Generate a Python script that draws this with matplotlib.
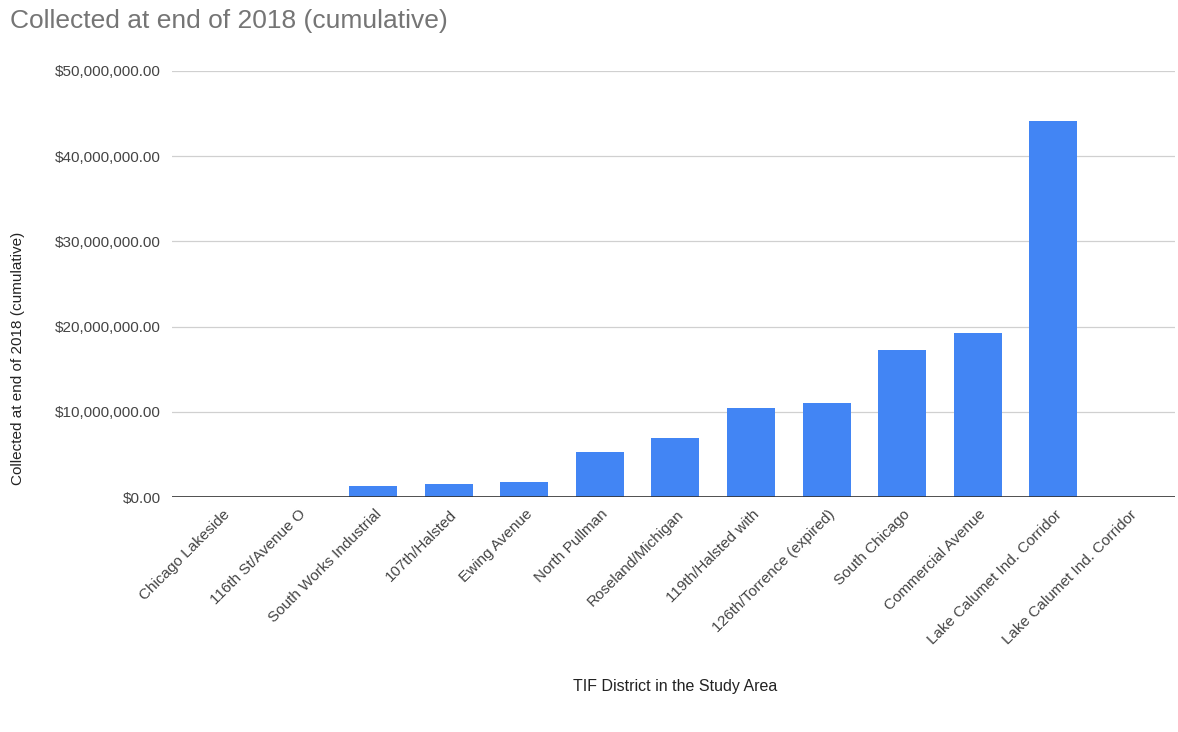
import matplotlib
matplotlib.use("Agg")
import matplotlib.pyplot as plt
from matplotlib.ticker import FuncFormatter
from matplotlib.transforms import ScaledTranslation

plt.rcParams["font.family"] = ["Liberation Sans", "DejaVu Sans"]

districts = [
    "Chicago Lakeside",
    "116th St/Avenue O",
    "South Works Industrial",
    "107th/Halsted",
    "Ewing Avenue",
    "North Pullman",
    "Roseland/Michigan",
    "119th/Halsted with",
    "126th/Torrence (expired)",
    "South Chicago",
    "Commercial Avenue",
    "Lake Calumet Ind. Corridor",
    "Lake Calumet Ind. Corridor",
]
collected = [
    0,
    0,
    1_260_000,
    1_500_000,
    1_730_000,
    5_300_000,
    6_960_000,
    10_500_000,
    11_070_000,
    17_200_000,
    19_300_000,
    44_100_000,
    0,
]
y_ticks = [0, 10_000_000, 20_000_000, 30_000_000, 40_000_000, 50_000_000]

BAR_COLOR = "#4285F4"
TEXT_COLOR = "#444444"

fig = plt.figure(figsize=(11.78, 7.32), dpi=100)
ax = fig.add_axes([172 / 1178, 1 - 497 / 732, 1003 / 1178, 426 / 732])

x = list(range(len(districts)))
ax.bar(x, collected, width=0.635, color=BAR_COLOR, zorder=3)

ax.set_ylim(0, 50_000_000)
ax.set_xlim(-0.66, 12.61)
ax.set_yticks(y_ticks)
ax.yaxis.set_major_formatter(FuncFormatter(lambda v, _: f"${v:,.2f}"))
ax.grid(axis="y", color="#d0d0d0", linewidth=0.9, zorder=0)
ax.axhline(0, color="#333333", linewidth=1.2, zorder=4)

for side in ("top", "right", "left", "bottom"):
    ax.spines[side].set_visible(False)

ax.tick_params(axis="y", length=0, pad=8, labelsize=11, labelcolor=TEXT_COLOR)
ax.tick_params(axis="x", length=0, pad=11)
ax.set_xticks(x)
ax.set_xticklabels(districts, rotation=45, ha="right", va="center",
                   rotation_mode="anchor", fontsize=11, color=TEXT_COLOR)
# nudge the slanted labels a little to the right, like the original
shift = ScaledTranslation(6 / 100, 0, fig.dpi_scale_trans)
for lbl in ax.get_xticklabels():
    lbl.set_transform(lbl.get_transform() + shift)

fig.text(10 / 1178, 1 - 21 / 732, "Collected at end of 2018 (cumulative)",
         fontsize=19, color="#757575", ha="left", va="center")
fig.text(18 / 1178, 1 - 358 / 732, "Collected at end of 2018 (cumulative)",
         fontsize=11, color="#222222", rotation=90, ha="center", va="center")
fig.text(675 / 1178, 1 - 687 / 732, "TIF District in the Study Area",
         fontsize=11.5, color="#222222", ha="center", va="center")

fig.savefig("out.png", dpi=100, facecolor="white")
